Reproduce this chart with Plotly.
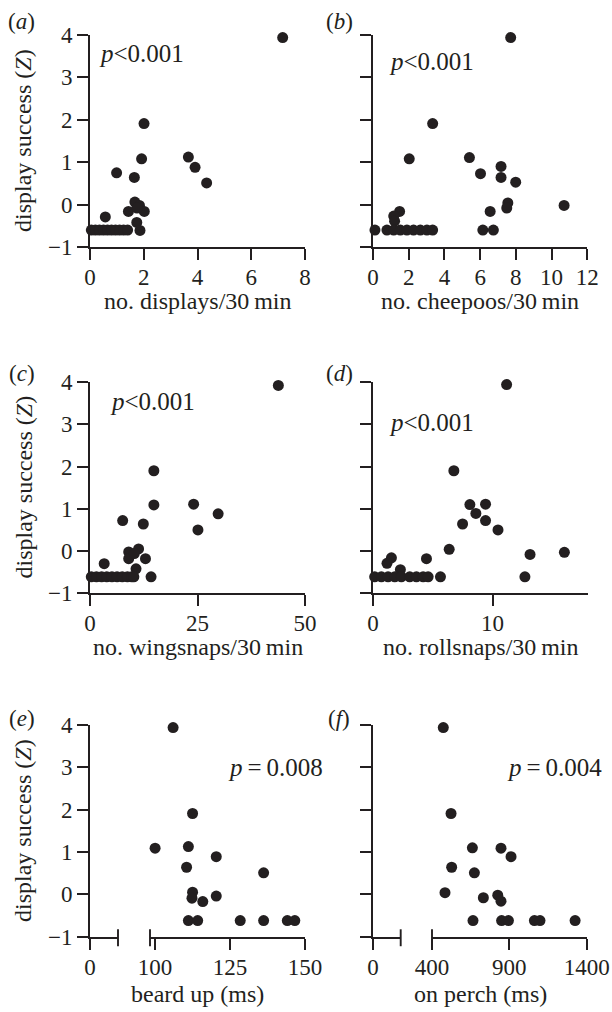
import plotly.graph_objects as go

# ---------------- data ----------------
# (a) displays / 30 min
a_x = [7.17, 2.01, 1.92, 0.99, 1.65, 3.66, 3.91, 4.34, 0.57, 1.43, 1.67, 1.84, 2.02, 1.74, 1.75,
       0.05, 0.20, 0.35, 0.50, 0.65, 0.80, 0.95, 1.10, 1.25, 1.40, 1.86]
a_y = [3.94, 1.91, 1.08, 0.75, 0.64, 1.12, 0.88, 0.51, -0.29, -0.16, 0.06, -0.02, -0.16, -0.42, -0.08,
       -0.60, -0.60, -0.60, -0.60, -0.60, -0.60, -0.60, -0.60, -0.60, -0.60, -0.61]
# (b) cheepoos / 30 min
b_x = [7.71, 3.34, 2.03, 5.40, 7.17, 6.02, 7.17, 7.99, 7.55, 7.49, 10.70, 6.56, 1.49, 1.16, 1.21,
       0.11, 0.78, 1.16, 1.53, 1.90, 2.27, 2.65, 3.02, 3.34, 6.15, 6.74]
b_y = [3.94, 1.91, 1.08, 1.11, 0.90, 0.73, 0.64, 0.53, 0.04, -0.08, -0.02, -0.16, -0.16, -0.27, -0.39,
       -0.60, -0.60, -0.60, -0.60, -0.60, -0.60, -0.60, -0.60, -0.60, -0.60, -0.60]
# (c) wingsnaps / 30 min
c_x = [43.8, 14.85, 14.85, 24.1, 29.8, 25.1, 7.6, 12.4, 11.3, 9.0, 9.0, 10.3, 12.9, 3.3, 10.7,
       14.2, 0.3, 1.5, 2.7, 3.9, 5.1, 6.3, 7.5, 8.7, 9.7, 10.2]
c_y = [3.92, 1.90, 1.09, 1.11, 0.88, 0.50, 0.72, 0.64, 0.05, -0.02, -0.18, -0.06, -0.18, -0.30, -0.42,
       -0.61, -0.61, -0.61, -0.61, -0.61, -0.61, -0.61, -0.61, -0.61, -0.61, -0.61]
# (d) rollsnaps / 30 min
d_x = [11.17, 6.76, 8.10, 9.41, 8.60, 9.41, 7.49, 10.45, 6.37, 16.0, 13.13, 4.47, 2.29, 1.54, 1.17,
       12.7, 5.64, 0.14, 0.70, 1.26, 1.82, 2.37, 3.07, 3.63, 4.19, 4.61]
d_y = [3.94, 1.90, 1.10, 1.11, 0.89, 0.72, 0.64, 0.50, 0.04, -0.03, -0.08, -0.18, -0.44, -0.16, -0.29,
       -0.61, -0.61, -0.61, -0.61, -0.61, -0.61, -0.61, -0.61, -0.61, -0.61, -0.61]
# (e) beard up (ms)
e_x = [106.0, 100.0, 112.5, 111.1, 110.5, 120.4, 136.2, 112.5, 112.3, 115.9, 120.4,
       111.1, 114.2, 128.4, 136.2, 144.1, 146.6]
e_y = [3.94, 1.09, 1.91, 1.13, 0.64, 0.89, 0.51, 0.05, -0.09, -0.17, -0.04,
       -0.62, -0.62, -0.62, -0.62, -0.62, -0.62]
# (f) on perch (ms)
f_x = [473, 523, 661, 846, 911, 527, 674, 484, 732, 825, 846,
       665, 850, 894, 1062, 1098, 1325]
f_y = [3.94, 1.91, 1.10, 1.09, 0.89, 0.64, 0.51, 0.04, -0.08, -0.02, -0.16,
       -0.62, -0.62, -0.62, -0.62, -0.62, -0.62]

y_ticks = [-1, 0, 1, 2, 3, 4]
a_ticks = [0, 2, 4, 6, 8]
b_ticks = [0, 2, 4, 6, 8, 10, 12]
c_ticks = [0, 25, 50]
d_ticks = [0, 10]
e_ticks = [100, 125, 150]
f_ticks = [400, 900, 1400]
stub_ticks = [0]

panel_labels = ["a", "b", "c", "d", "e", "f"]
x_titles = ["no. displays/30\u2009min", "no. cheepoos/30\u2009min", "no. wingsnaps/30\u2009min",
            "no. rollsnaps/30\u2009min", "beard up (ms)", "on perch (ms)"]
p_texts = ["<i>p</i>&lt;0.001", "<i>p</i>&lt;0.001", "<i>p</i>&lt;0.001", "<i>p</i>&lt;0.001",
           "<i>p</i>\u2009=\u20090.008", "<i>p</i>\u2009=\u20090.004"]
y_title = "display success (<i>Z</i>)"

# ---------------- layout helpers ----------------
W, H = 612, 1012
INK = "#231f20"
FONT = "Liberation Serif, Times New Roman, serif"
FS = 23


def px(v):
    return v / W


def py(v):
    return 1 - v / H


def ydom(top, bottom):
    return [py(bottom), py(top)]


def xdom(left, right):
    return [px(left), px(right)]


axis_common = dict(showline=True, linecolor=INK, linewidth=1.8, ticks="outside", ticklen=11,
                   tickwidth=1.8, tickcolor=INK, showgrid=False, zeroline=False, automargin=False,
                   tickfont=dict(family=FONT, size=FS, color=INK))

fig = go.Figure()
mk = dict(size=11, color=INK, line=dict(width=0))


def add(xs, ys, xa, ya):
    fig.add_trace(go.Scatter(x=xs, y=ys, mode="markers", marker=mk, xaxis=xa, yaxis=ya,
                             cliponaxis=False, showlegend=False, hoverinfo="skip"))


add(a_x, a_y, "x", "y")
add(b_x, b_y, "x2", "y2")
add(c_x, c_y, "x3", "y3")
add(d_x, d_y, "x4", "y4")
add([None], [None], "x5", "y5")
add(e_x, e_y, "x6", "y5")
add([None], [None], "x7", "y6")
add(f_x, f_y, "x8", "y6")

row1 = ydom(35, 247)
row2 = ydom(382, 593.3)
row3 = ydom(725, 936.7)
colL = (90, 305)
colR = (373, 588)

lay = dict(width=W, height=H, margin=dict(l=0, r=0, t=0, b=0, pad=0, autoexpand=False),
           autosize=False, plot_bgcolor="white", paper_bgcolor="white", showlegend=False)

# y axes
for name, dom, anchor, labels in [("yaxis", row1, "x", True), ("yaxis2", row1, "x2", False),
                                  ("yaxis3", row2, "x3", True), ("yaxis4", row2, "x4", False),
                                  ("yaxis5", row3, "x5", True), ("yaxis6", row3, "x7", False)]:
    lay[name] = dict(axis_common, domain=dom, anchor=anchor, range=[-1, 4], tickvals=y_ticks,
                     showticklabels=labels)

# x axes
xcommon = dict(axis_common, ticklabelstandoff=-3)
x3common = dict(axis_common, ticklabelstandoff=-2)
lay["xaxis"] = dict(xcommon, domain=xdom(*colL), anchor="y", range=[0, 8], tickvals=a_ticks)
lay["xaxis2"] = dict(xcommon, domain=xdom(colR[0], 587.3), anchor="y2", range=[0, 12], tickvals=b_ticks)
lay["xaxis3"] = dict(xcommon, domain=xdom(*colL), anchor="y3", range=[0, 50], tickvals=c_ticks)
lay["xaxis4"] = dict(xcommon, domain=xdom(colR[0], 588.3), anchor="y4", range=[0, 18], tickvals=d_ticks)
lay["xaxis5"] = dict(x3common, domain=xdom(90, 118), anchor="y5", range=[0, 9.33], tickvals=stub_ticks)
lay["xaxis6"] = dict(x3common, domain=xdom(150, 305), anchor="y5", range=[98.3, 150], tickvals=e_ticks)
lay["xaxis7"] = dict(x3common, domain=xdom(colR[0], 400.7), anchor="y6", range=[0, 175], tickvals=stub_ticks)
lay["xaxis8"] = dict(x3common, domain=xdom(432, 586.7), anchor="y6", range=[400, 1400], tickvals=f_ticks)

fig.update_layout(**lay)

# axis-break bars
for xr, xv, yr in [("x5 domain", 1, "y5 domain"), ("x6 domain", 0, "y5 domain"),
                   ("x7 domain", 1, "y6 domain"), ("x8 domain", 0, "y6 domain")]:
    fig.add_shape(type="line", xref=xr, yref=yr, x0=xv, x1=xv, y0=-0.045, y1=0.035,
                  line=dict(color=INK, width=1.9))


def note(text, x, y, angle=0, size=FS):
    return dict(text=text, x=px(x), y=py(y), xref="paper", yref="paper", showarrow=False,
                xanchor="center", yanchor="middle", textangle=angle,
                font=dict(family=FONT, size=size, color=INK))


ann = []
lab_pos = [(21, 22), (339, 22), (22, 373), (339, 373), (22, 718), (339, 718)]
for lab, (lx, ly) in zip(panel_labels, lab_pos):
    ann.append(note("(<i>%s</i>)" % lab, lx, ly))
p_pos = [(141, 53), (431, 62), (152, 402), (431, 422), (275, 767), (554, 767)]
for t, (lx, ly) in zip(p_texts, p_pos):
    ann.append(note(t, lx, ly, size=25))
xt_pos = [(197.5, 301), (480, 301), (197.5, 647), (480, 647), (197.5, 994), (480, 994)]
for t, (lx, ly) in zip(x_titles, xt_pos):
    ann.append(note(t, lx, ly, size=24))
for cy in [141, 487.5, 831]:
    ann.append(note(y_title, 23, cy, -90, size=24))
fig.update_layout(annotations=ann)

fig.write_html("out.html", config={"displayModeBar": False},
               post_script="document.body.style.margin='0px';")
